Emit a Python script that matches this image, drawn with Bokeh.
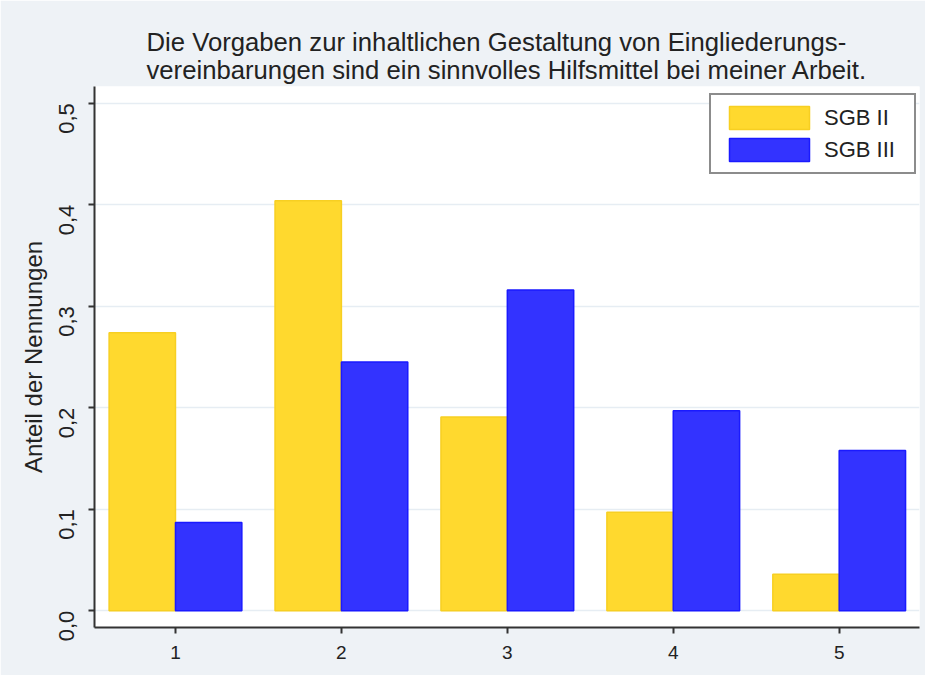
from bokeh.plotting import figure
from bokeh.models import ColumnDataSource, Range1d, FixedTicker, CustomJSTickFormatter, Legend, LegendItem
from bokeh.transform import dodge
from bokeh.embed import file_html
from bokeh.resources import INLINE

# --- data ---
categories = [1, 2, 3, 4, 5]
sgb_ii = [0.274, 0.404, 0.191, 0.097, 0.036]
sgb_iii = [0.087, 0.245, 0.316, 0.197, 0.158]
y_ticks = [0.0, 0.1, 0.2, 0.3, 0.4, 0.5]
series_names = ["SGB II", "SGB III"]
title_lines = ["Die Vorgaben zur inhaltlichen Gestaltung von Eingliederungs-",
               "vereinbarungen sind ein sinnvolles Hilfsmittel bei meiner Arbeit."]
y_label = "Anteil der Nennungen"

src = ColumnDataSource(dict(cat=categories, a=sgb_ii, b=sgb_iii))

FONT = "Liberation Sans"
BG = "#EEF2F6"

p = figure(width=925, height=675, output_backend="svg", toolbar_location=None,
           x_range=Range1d(0.512, 5.484), y_range=Range1d(-0.0165, 0.5165),
           min_border_left=94, min_border_right=6, min_border_bottom=48, min_border_top=86)

p.background_fill_color = "white"
p.border_fill_color = BG
p.outline_line_color = None

p.title.text = "\n".join(title_lines)
p.title.align = "center"
p.title.text_font = FONT
p.title.text_font_size = "25.7px"
p.title.text_font_style = "normal"
p.title.text_color = "#222222"
p.title.text_line_height = 1.0
p.title.standoff = 6

r1 = p.vbar(x=dodge("cat", -0.2), top="a", width=0.4, bottom=0, source=src,
            fill_color="#FFD92E", line_color="#F7CF22", line_width=1.5)
r2 = p.vbar(x=dodge("cat", 0.2), top="b", width=0.4, bottom=0, source=src,
            fill_color="#3333FF", line_color="#1A1AFF", line_width=1.5)

# axes
p.xaxis.ticker = FixedTicker(ticks=categories)
p.yaxis.ticker = FixedTicker(ticks=y_ticks)
p.yaxis.formatter = CustomJSTickFormatter(code="return tick.toFixed(1).replace('.', ',');")
for ax in (p.xaxis[0], p.yaxis[0]):
    ax.axis_line_color = "#333333"
    ax.axis_line_width = 2
    ax.major_tick_line_color = "#333333"
    ax.major_tick_line_width = 2
    ax.major_tick_out = 6
    ax.major_tick_in = 0
    ax.minor_tick_line_color = None
    ax.major_label_text_font = FONT
    ax.major_label_text_color = "#222222"
    ax.axis_label_text_font = FONT
    ax.axis_label_text_font_style = "normal"
    ax.axis_label_text_color = "#222222"

p.xaxis.major_label_text_font_size = "19px"
p.xaxis.major_label_standoff = 12
p.yaxis.major_label_text_font_size = "22px"
p.yaxis.major_label_orientation = 1.5708
p.yaxis.major_label_standoff = 22
p.yaxis.axis_label = y_label
p.yaxis.axis_label_text_font_size = "24px"
p.yaxis.axis_label_standoff = 2

p.xgrid.grid_line_color = None
p.ygrid.grid_line_color = "#E6EDF3"
p.ygrid.grid_line_width = 1.5

legend = Legend(items=[LegendItem(label=series_names[0], renderers=[r1]),
                       LegendItem(label=series_names[1], renderers=[r2])],
                location=(615, 453))
legend.border_line_color = "#1A1A1A"
legend.border_line_width = 2
legend.background_fill_color = "white"
legend.background_fill_alpha = 1
legend.label_text_font = FONT
legend.label_text_font_size = "22px"
legend.label_text_color = "#222222"
legend.glyph_width = 100
legend.glyph_height = 29
legend.label_height = 29
legend.label_width = 82
legend.label_standoff = 5
legend.spacing = 3
legend.padding = 8
legend.margin = 0
p.add_layout(legend, "center")

open("out.html", "w").write(file_html(p, INLINE))
